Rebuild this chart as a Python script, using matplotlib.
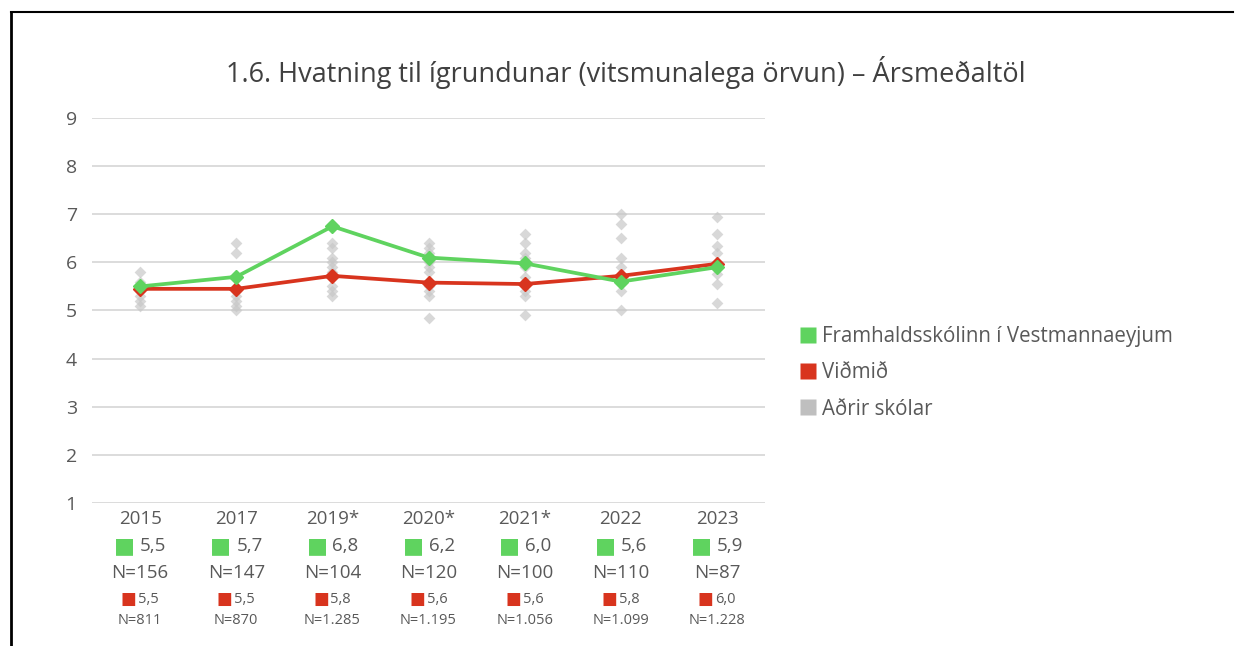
import numpy as np
import matplotlib
matplotlib.use("Agg")
import matplotlib.pyplot as plt
from matplotlib.lines import Line2D

plt.rcParams["font.family"] = ["Open Sans", "DejaVu Sans"]

years = ["2015", "2017", "2019*", "2020*", "2021*", "2022", "2023"]
school = [5.5, 5.7, 6.75, 6.1, 5.98, 5.6, 5.9]
benchmark = [5.45, 5.45, 5.72, 5.58, 5.55, 5.72, 5.97]
school_lbl = ["5,5", "5,7", "6,8", "6,2", "6,0", "5,6", "5,9"]
school_n = ["N=156", "N=147", "N=104", "N=120", "N=100", "N=110", "N=87"]
bench_lbl = ["5,5", "5,5", "5,8", "5,6", "5,6", "5,8", "6,0"]
bench_n = ["N=811", "N=870", "N=1.285", "N=1.195", "N=1.056", "N=1.099", "N=1.228"]
others = [
    [5.8, 5.6, 5.4, 5.3, 5.2, 5.1],
    [6.4, 6.2, 5.4, 5.3, 5.2, 5.1, 5.0],
    [6.4, 6.3, 6.1, 6.0, 5.9, 5.8, 5.5, 5.4, 5.3],
    [6.4, 6.3, 6.2, 6.0, 5.9, 5.8, 5.5, 5.4, 5.3, 4.85],
    [6.6, 6.4, 6.2, 6.1, 5.9, 5.7, 5.4, 5.3, 4.9],
    [7.0, 6.8, 6.5, 6.1, 5.9, 5.4, 5.0],
    [6.95, 6.6, 6.35, 6.2, 5.75, 5.55, 5.15],
]

green = "#5fd35f"
red = "#d8341e"
gray = "#c8c8c8"
txt = "#595959"

fig = plt.figure(figsize=(12.44, 6.46), dpi=100)
ax = fig.add_axes([0.074, 0.2214, 0.541, 0.5959])
x = np.arange(len(years))

for i, vals in enumerate(others):
    ax.scatter([i] * len(vals), vals, marker="D", s=36, color=gray,
               alpha=0.7, linewidths=0, zorder=2)

ax.plot(x, benchmark, color=red, lw=2.7, marker="D", ms=7.5, zorder=3)
ax.plot(x, school, color=green, lw=2.7, marker="D", ms=7.5, zorder=4)

ax.set_xlim(-0.5, len(years) - 0.5)
ax.set_ylim(1, 9)
ax.set_yticks(range(1, 10))
ax.yaxis.grid(True, color="#d9d9d9", lw=1.3)
ax.set_axisbelow(True)
for s in ax.spines.values():
    s.set_visible(False)
ax.tick_params(axis="y", length=0, pad=11, labelsize=14, labelcolor=txt)
ax.set_xticks(x)
ax.set_xticklabels(years)
ax.tick_params(axis="x", length=0, pad=5, labelsize=13.5, labelcolor=txt)

tr = ax.get_xaxis_transform()
for i in range(len(years)):
    ax.text(i - 0.16, -0.112, "\u25a0", transform=tr, ha="center", va="center",
            fontsize=16, color=green, family="DejaVu Sans")
    ax.text(i + 0.0, -0.112, school_lbl[i], transform=tr, ha="left", va="center",
            fontsize=13.5, color=txt)
    ax.text(i, -0.182, school_n[i], transform=tr, ha="center", va="center",
            fontsize=13.5, color=txt)
    ax.text(i - 0.12, -0.25, "\u25a0", transform=tr, ha="center", va="center",
            fontsize=12, color=red, family="DejaVu Sans")
    ax.text(i - 0.02, -0.25, bench_lbl[i], transform=tr, ha="left", va="center",
            fontsize=10.5, color=txt)
    ax.text(i, -0.305, bench_n[i], transform=tr, ha="center", va="center",
            fontsize=10.5, color=txt)

fig.text(0.503, 0.888, "1.6. Hvatning til ígrundunar (vitsmunalega örvun) \u2013 Ársmeðaltöl",
         ha="center", va="center", fontsize=19.5, color="#404040")

handles = [
    Line2D([0], [0], marker="s", color="none", markerfacecolor=green,
           markeredgecolor="none", markersize=12, label="Framhaldsskólinn í Vestmannaeyjum"),
    Line2D([0], [0], marker="s", color="none", markerfacecolor=red,
           markeredgecolor="none", markersize=12, label="Viðmið"),
    Line2D([0], [0], marker="s", color="none", markerfacecolor="#bfbfbf",
           markeredgecolor="none", markersize=12, label="Aðrir skólar"),
]
leg = fig.legend(handles=handles, loc="center left", bbox_to_anchor=(0.629, 0.423),
                 frameon=False, fontsize=14.8, handlelength=0.7, handletextpad=0.3,
                 labelspacing=0.75)
for t in leg.get_texts():
    t.set_color(txt)

# frame lines at top and left
fig.add_artist(Line2D([0.009, 0.991], [0.981, 0.981], color="black", lw=1.5,
                      transform=fig.transFigure))
fig.add_artist(Line2D([0.009, 0.009], [0.0, 0.981], color="black", lw=2,
                      transform=fig.transFigure))

fig.savefig("out.png", dpi=100)
